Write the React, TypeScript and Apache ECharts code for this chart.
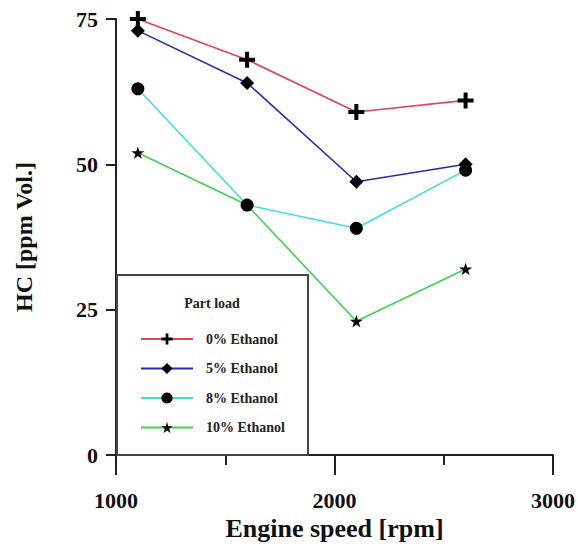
import React, { useEffect, useRef } from "react";
import * as echarts from "echarts";

const speeds = [1100, 1600, 2100, 2600];
const hc0 = [75, 68, 59, 61];
const hc5 = [73, 64, 47, 50];
const hc8 = [63, 43, 39, 49];
const hc10 = [52, 43, 23, 32];
const seriesNames = ["0% Ethanol", "5% Ethanol", "8% Ethanol", "10% Ethanol"];
const xTitle = "Engine speed [rpm]";
const yTitle = "HC [ppm Vol.]";
const legendTitle = "Part load";

const FONT = "'Liberation Serif', 'Times New Roman', serif";
const PLUS = "path://M3,0H5V3H8V5H5V8H3V5H0V3H3Z";
const STAR =
  "path://M10,0L12.25,6.91L19.51,6.91L13.63,11.18L15.88,18.09L10,13.82L4.12,18.09L6.37,11.18L0.49,6.91L7.75,6.91Z";

export default function App() {
  const ref = useRef<HTMLDivElement>(null);
  useEffect(() => {
    if (!ref.current) return;
    const chart = echarts.init(ref.current, undefined, { renderer: "svg" });
    const mk = (name: string, vals: number[], color: string, symbol: string, size: number) => ({
      name,
      type: "line",
      data: speeds.map((s, i) => [s, vals[i]]),
      symbol,
      symbolSize: size,
      symbolKeepAspect: true,
      showAllSymbol: true,
      lineStyle: { color, width: 1.6 },
      itemStyle: { color: "#000", borderWidth: 0 },
      emphasis: { disabled: true },
      z: 3,
    });
    chart.setOption({
      animation: false,
      backgroundColor: "#fff",
      grid: { left: 116, right: 24, top: 19, bottom: 92, containLabel: false },
      xAxis: {
        type: "value",
        min: 1000,
        max: 3000,
        interval: 1000,
        name: xTitle,
        nameLocation: "middle",
        nameGap: 58,
        nameTextStyle: { fontFamily: FONT, fontWeight: "bold", fontSize: 26, color: "#111" },
        axisLine: { show: true, lineStyle: { color: "#222", width: 2 } },
        axisTick: { show: true, length: 20, lineStyle: { color: "#222", width: 2 } },
        minorTick: { show: true, splitNumber: 2, length: 10, lineStyle: { color: "#222", width: 2 } },
        splitLine: { show: false },
        minorSplitLine: { show: false },
        axisLabel: {
          margin: 34,
          fontFamily: FONT,
          fontWeight: "bold",
          fontSize: 22,
          color: "#111",
          formatter: (v: number) => String(v),
        },
      },
      yAxis: {
        type: "value",
        min: 0,
        max: 75,
        interval: 25,
        name: yTitle,
        nameLocation: "middle",
        nameGap: 80,
        nameRotate: 90,
        nameTextStyle: { fontFamily: FONT, fontWeight: "bold", fontSize: 24, color: "#111" },
        axisLine: { show: true, lineStyle: { color: "#222", width: 2 } },
        axisTick: { show: true, length: 10, lineStyle: { color: "#222", width: 2 } },
        splitLine: { show: false },
        axisLabel: {
          margin: 18,
          fontFamily: FONT,
          fontWeight: "bold",
          fontSize: 22,
          color: "#111",
          formatter: (v: number) => String(v),
        },
      },
      legend: {
        orient: "vertical",
        left: 135,
        top: 327,
        itemWidth: 52,
        itemHeight: 14,
        itemGap: 15.5,
        z: 20,
        selectedMode: false,
        data: seriesNames,
        textStyle: {
          fontFamily: FONT,
          fontWeight: "bold",
          fontSize: 14,
          color: "#222",
          padding: [0, 0, 0, 8],
        },
      },
      graphic: [
        {
          type: "rect",
          z: 10,
          shape: { x: 117, y: 275, width: 191, height: 180 },
          style: { fill: "#fff", stroke: "#444", lineWidth: 2 },
        },
        {
          type: "text",
          z: 11,
          x: 212,
          y: 303,
          style: {
            text: legendTitle,
            fontFamily: FONT,
            fontWeight: "bold",
            fontSize: 14,
            fill: "#222",
            align: "center",
            verticalAlign: "middle",
          },
        },
      ],
      series: [
        mk(seriesNames[0], hc0, "#e04558", PLUS, 16),
        mk(seriesNames[1], hc5, "#2a2ab0", "diamond", 14),
        mk(seriesNames[2], hc8, "#40e0d8", "circle", 13),
        mk(seriesNames[3], hc10, "#40d050", STAR, 13),
      ],
    });
    return () => chart.dispose();
  }, []);
  return (
    <div
      ref={ref}
      style={{ position: "absolute", left: 0, top: 0, width: 578, height: 547 }}
    />
  );
}
